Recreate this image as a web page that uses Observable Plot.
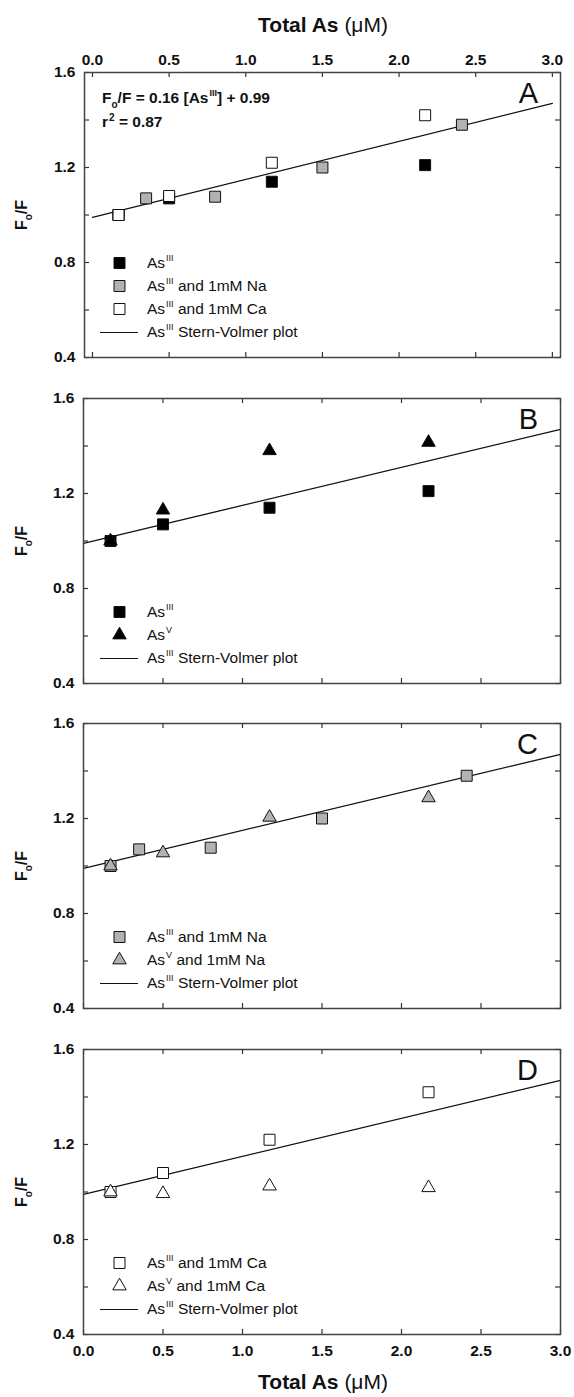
<!DOCTYPE html>
<html><head><meta charset="utf-8">
<script src="https://cdn.jsdelivr.net/npm/d3@7"></script>
<script src="https://cdn.jsdelivr.net/npm/@observablehq/plot@0.6"></script>
<style>
body{margin:0;background:#fff;}
#wrap{position:relative;width:574px;height:1397px;font-family:"Liberation Sans",Arial,sans-serif;color:#111;overflow:hidden;}
#wrap svg{position:absolute;left:0;}
.abs{position:absolute;white-space:nowrap;line-height:1;}
.leg{font-size:15.5px;}
sup{font-size:9px;vertical-align:0;position:relative;top:-7px;margin-left:1px;}
sub{font-size:10px;vertical-align:0;position:relative;top:5px;}
.ytitle{font-weight:bold;font-size:16px;transform:translate(-50%,-50%) rotate(-90deg);}
.letter{font-size:29px;}
.xtitle{font-size:21px;transform:translateX(-50%);}
.legline{position:absolute;height:0;border-top:1.3px solid #111;width:38px;}
</style></head><body><div id="wrap"></div><script>
// ---- data ----
const xTicks = [0, 0.5, 1, 1.5, 2, 2.5, 3];
const yTicks = [0.4, 0.6, 0.8, 1.0, 1.2, 1.4, 1.6];
const yLabels = [0.4, 0.8, 1.2, 1.6];
const svSlope = 0.16, svIntercept = 0.99, svX = [0, 3];
const asIII_x = [0.17, 0.5, 1.17, 2.17];
const asIII_y = [1.00, 1.07, 1.14, 1.21];
const asIIINa_x = [0.17, 0.35, 0.80, 1.50, 2.41];
const asIIINa_y = [1.00, 1.07, 1.077, 1.20, 1.38];
const asIIICa_x = [0.17, 0.5, 1.17, 2.17];
const asIIICa_y = [1.00, 1.08, 1.22, 1.42];
const asV_x = [0.17, 0.5, 1.17, 2.17];
const asV_y = [1.00, 1.13, 1.38, 1.415];
const asVNa_x = [0.17, 0.5, 1.17, 2.17];
const asVNa_y = [1.00, 1.055, 1.205, 1.287];
const asVCa_x = [0.17, 0.5, 1.17, 2.17];
const asVCa_y = [1.00, 0.993, 1.025, 1.018];

const pts = (xs, ys) => xs.map((x, i) => ({x, y: ys[i]}));
const svLine = svX.map(x => ({x, y: svSlope * x + svIntercept}));

const styles = {
  asIII:   {symbol: "square", fill: "#000", r: 6.2},
  asIIINa: {symbol: "square", fill: "#b2b2b2", r: 6.2},
  asIIICa: {symbol: "square", fill: "#fff", r: 6.2},
  asV:     {symbol: "triangle", fill: "#000", r: 5},
  asVNa:   {symbol: "triangle", fill: "#b2b2b2", r: 5},
  asVCa:   {symbol: "triangle", fill: "#fff", r: 5}
};
const series = {
  asIII: pts(asIII_x, asIII_y), asIIINa: pts(asIIINa_x, asIIINa_y), asIIICa: pts(asIIICa_x, asIIICa_y),
  asV: pts(asV_x, asV_y), asVNa: pts(asVNa_x, asVNa_y), asVCa: pts(asVCa_x, asVCa_y)
};
const labels = {
  asIII: "As<sup>III</sup>", asIIINa: "As<sup>III</sup> and 1mM Na", asIIICa: "As<sup>III</sup> and 1mM Ca",
  asV: "As<sup>V</sup>", asVNa: "As<sup>V</sup> and 1mM Na", asVCa: "As<sup>V</sup> and 1mM Ca",
  sv: "As<sup>III</sup> Stern-Volmer plot"
};

const wrap = document.getElementById("wrap");
const W = 574, PH = 285;
const panels = [
  {letter: "A", top: 72, left: 84, xdom: [-0.052, 3.053], keys: ["asIII", "asIIINa", "asIIICa"], topLabels: true},
  {letter: "B", top: 398, left: 83, xdom: [0, 3], keys: ["asIII", "asV"]},
  {letter: "C", top: 723, left: 83, xdom: [0, 3], keys: ["asIIINa", "asVNa"]},
  {letter: "D", top: 1049, left: 83, xdom: [0, 3], keys: ["asIIICa", "asVCa"], bottomLabels: true}
];

function addDiv(cls, html, css) {
  const d = document.createElement("div");
  d.className = "abs " + cls;
  d.innerHTML = html;
  Object.assign(d.style, css);
  wrap.appendChild(d);
  return d;
}

panels.forEach(p => {
  const mt = p.topLabels ? p.top : 10;
  const mb = p.bottomLabels ? (1397 - p.top - PH) : 10;
  const plotW = W - 14 - p.left;
  const marks = [
    Plot.tickX(xTicks, {x: d => d, insetTop: PH - 5, stroke: "#333", strokeWidth: 1.2}),
    Plot.tickX(xTicks, {x: d => d, insetBottom: PH - 5, stroke: "#333", strokeWidth: 1.2}),
    Plot.tickY(yTicks, {y: d => d, insetRight: plotW - 5, stroke: "#333", strokeWidth: 1.2}),
    Plot.tickY(yTicks, {y: d => d, insetLeft: plotW - 5, stroke: "#333", strokeWidth: 1.2}),
    Plot.axisY({ticks: yLabels, tickSize: 0, tickPadding: 9, tickFormat: d3.format(".1f"), label: null, fontWeight: "bold", fontSize: 15.5}),
    Plot.line(svLine, {x: "x", y: "y", stroke: "#111", strokeWidth: 1.3}),
  ];
  if (p.topLabels) marks.push(Plot.axisX({anchor: "top", ticks: xTicks, tickSize: 0, tickPadding: 8, tickFormat: d3.format(".1f"), label: null, fontWeight: "bold", fontSize: 15.5}));
  else if (p.bottomLabels) marks.push(Plot.axisX({anchor: "bottom", ticks: xTicks, tickSize: 0, tickPadding: 10, tickFormat: d3.format(".1f"), label: null, fontWeight: "bold", fontSize: 15.5}));
  else marks.push(Plot.axisX({ticks: [], label: null}));
  p.keys.forEach(k => {
    const s = styles[k];
    marks.push(Plot.dot(series[k], {x: "x", y: "y", symbol: s.symbol, r: s.r, fill: s.fill, stroke: "#111", strokeWidth: 1}));
  });
  // legend symbols
  const nRows = p.keys.length + 1;
  p.keys.forEach((k, i) => {
    const s = styles[k];
    const dy = -(25.5 + 23 * (nRows - 1 - i));
    marks.push(Plot.dot([0], {frameAnchor: "bottom-left", dx: 119 - p.left, dy, symbol: s.symbol, r: s.r, fill: s.fill, stroke: "#111", strokeWidth: 1}));
  });
  marks.push(Plot.frame({stroke: "#444", strokeWidth: 1.5}));
  const chart = Plot.plot({
    width: W, height: mt + PH + mb,
    marginTop: mt, marginBottom: mb, marginLeft: p.left, marginRight: 14,
    x: {domain: p.xdom},
    y: {domain: [0.4, 1.6]},
    style: {fontFamily: '"Liberation Sans", Arial, sans-serif', color: "#111", background: "transparent", overflow: "visible"},
    marks
  });
  chart.style.top = (p.top - mt) + "px";
  wrap.appendChild(chart);

  const bottom = p.top + PH;
  // legend text
  p.keys.forEach((k, i) => {
    const cy = bottom - (25.5 + 23 * (nRows - 1 - i));
    addDiv("leg", labels[k], {left: "147px", top: (cy - 8) + "px"});
  });
  const cyl = bottom - 25.5;
  const ln = document.createElement("div");
  ln.className = "legline";
  Object.assign(ln.style, {left: "100px", top: cyl + "px"});
  wrap.appendChild(ln);
  addDiv("leg", labels.sv, {left: "147px", top: (cyl - 8) + "px"});
  // letter
  addDiv("letter", p.letter, {right: (574 - 538) + "px", top: (p.top + 7) + "px"});
  // y title
  addDiv("ytitle", "F<sub>o</sub>/F", {left: "22px", top: (p.top + PH / 2) + "px"});
});

// equation in panel A
addDiv("", "F<sub>o</sub>/F = 0.16 [As<sup>III</sup>] + 0.99", {left: "102px", top: "90px", fontWeight: "bold", fontSize: "15.5px"});
addDiv("", "r<sup style='top:-6px;font-size:10px'>2</sup> = 0.87", {left: "102px", top: "114px", fontWeight: "bold", fontSize: "15.5px"});
// axis titles
addDiv("xtitle", "<b>Total As</b> (μM)", {left: "323px", top: "14px"});
addDiv("xtitle", "<b>Total As</b> (μM)", {left: "323px", top: "1371px"});
</script></body></html>
